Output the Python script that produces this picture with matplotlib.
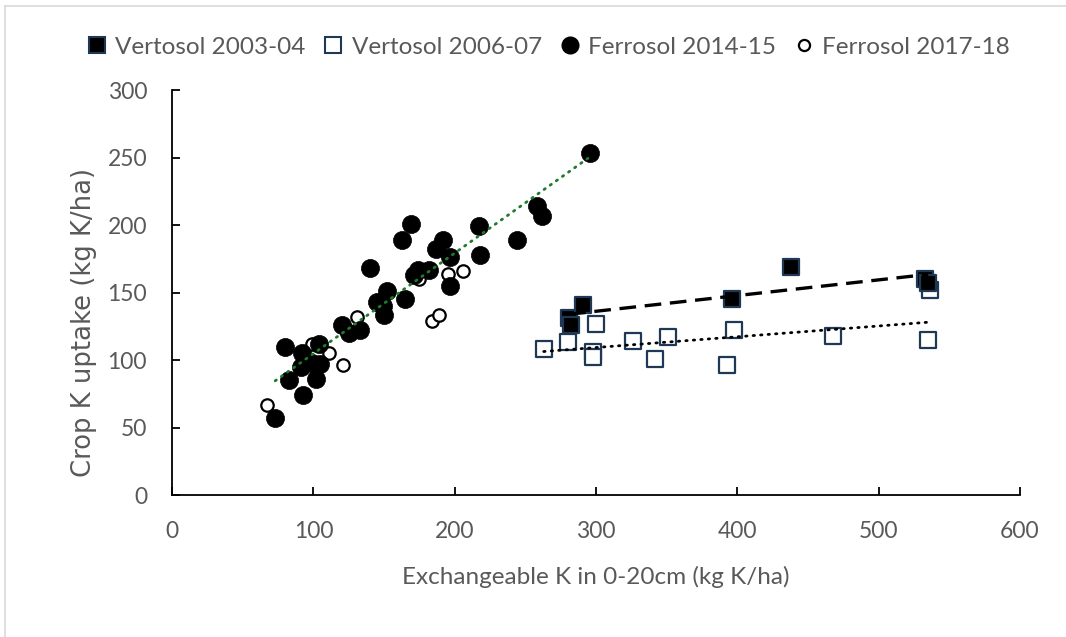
import numpy as np
import matplotlib
matplotlib.use("Agg")
import matplotlib.pyplot as plt
from matplotlib.lines import Line2D

# Vertosol 2003-04 (filled squares)
v03_x = [281, 282, 291, 396, 438, 533, 535]
v03_y = [131, 126, 141, 145, 169, 160, 157]

# Vertosol 2006-07 (open squares)
v06_x = [263, 280, 300, 298, 298, 326, 351, 342, 398, 393, 468, 535, 536]
v06_y = [108, 113, 127, 106, 102, 114, 117, 101, 122, 96, 118, 115, 152]

# Ferrosol 2014-15 (filled circles)
f14_x = [73, 80, 83, 92, 93, 91, 99, 102, 104, 105, 120, 125, 133, 140, 145, 149, 150,
         152, 163, 165, 169, 171, 174, 182, 187, 192, 197, 197, 217, 218, 244, 258, 262, 296]
f14_y = [57, 110, 85, 105, 74, 95, 98, 86, 112, 97, 126, 120, 122, 168, 143, 140, 133,
         151, 189, 145, 201, 163, 167, 167, 182, 189, 176, 155, 199, 178, 189, 214, 207, 253]

# Ferrosol 2017-18 (open circles)
f17_x = [67, 99, 111, 121, 131, 175, 184, 189, 195, 206]
f17_y = [67, 112, 105, 96, 132, 160, 129, 133, 164, 166]

x_ticks = [0, 100, 200, 300, 400, 500, 600]
y_ticks = [0, 50, 100, 150, 200, 250, 300]

gray = "#595959"
navy = "#1F3855"
plt.rcParams["font.family"] = ["Lato", "DejaVu Sans"]

fig = plt.figure(figsize=(10.66, 6.37), dpi=100)
ax = fig.add_axes([0.1614, 0.2229, 0.9568 - 0.1614, 0.8587 - 0.2229])

ax.scatter(v06_x, v06_y, marker="s", s=135, facecolor="white", edgecolor=navy, linewidth=1.6, zorder=3)
ax.scatter(v03_x, v03_y, marker="s", s=135, facecolor="black", edgecolor=navy, linewidth=1.6, zorder=4)
ax.scatter(f17_x, f17_y, marker="o", s=80, facecolor="white", edgecolor="black", linewidth=1.6, zorder=3)
ax.scatter(f14_x, f14_y, marker="o", s=170, facecolor="black", edgecolor="black", linewidth=0.5, zorder=4)


def trend(xs, ys, **kw):
    k, b = np.polyfit(xs, ys, 1)
    xx = np.array([min(xs), max(xs)])
    ax.plot(xx, k * xx + b, zorder=5, **kw)


trend(v03_x, v03_y, color="black", lw=2.4, linestyle=(0, (5, 2.6)))
trend(v06_x, v06_y, color="black", lw=2.0, linestyle=(0, (0.5, 2.2)), dash_capstyle="round")
trend(f14_x, f14_y, color="#1F7A2E", lw=2.0, linestyle=(0, (0.5, 2.2)), dash_capstyle="round")

ax.set_xlim(0, 600)
ax.set_ylim(0, 300)
ax.set_xticks(x_ticks)
ax.set_yticks(y_ticks)
for s in ["top", "right"]:
    ax.spines[s].set_visible(False)
for s in ["left", "bottom"]:
    ax.spines[s].set_linewidth(1.3)
ax.tick_params(direction="in", length=6, width=1.3, labelsize=16.5, labelcolor=gray)
ax.tick_params(axis="y", pad=18)
ax.tick_params(axis="x", pad=19)

ax.set_xlabel("Exchangeable K in 0-20cm (kg K/ha)", fontsize=17.5, color=gray, labelpad=17)
ax.set_ylabel("Crop K uptake (kg K/ha)", fontsize=18.6, color=gray,
              family=["DejaVu Sans"])
ax.yaxis.set_label_coords(-0.088, 0.427)

handles = [
    Line2D([], [], marker="s", ls="", ms=11, mfc="black", mec=navy, mew=1.5),
    Line2D([], [], marker="s", ls="", ms=11, mfc="white", mec=navy, mew=1.5),
    Line2D([], [], marker="o", ls="", ms=12, mfc="black", mec="black"),
    Line2D([], [], marker="o", ls="", ms=8, mfc="white", mec="black", mew=1.6),
]
labels = ["Vertosol 2003-04", "Vertosol 2006-07", "Ferrosol 2014-15", "Ferrosol 2017-18"]
leg = fig.legend(handles, labels, loc="center", bbox_to_anchor=(0.514, 0.926), ncol=4,
                 frameon=False, fontsize=17.5, handletextpad=0.3, columnspacing=0.7,
                 handlelength=0.9)
for t in leg.get_texts():
    t.set_color(gray)

# light frame around the chart area
fig.add_artist(Line2D([0.005, 0.005], [0, 0.99], color="#D9D9D9", lw=1.2))
fig.add_artist(Line2D([0.005, 1.0], [0.99, 0.99], color="#D9D9D9", lw=1.2))

fig.savefig("out.png", dpi=100)
